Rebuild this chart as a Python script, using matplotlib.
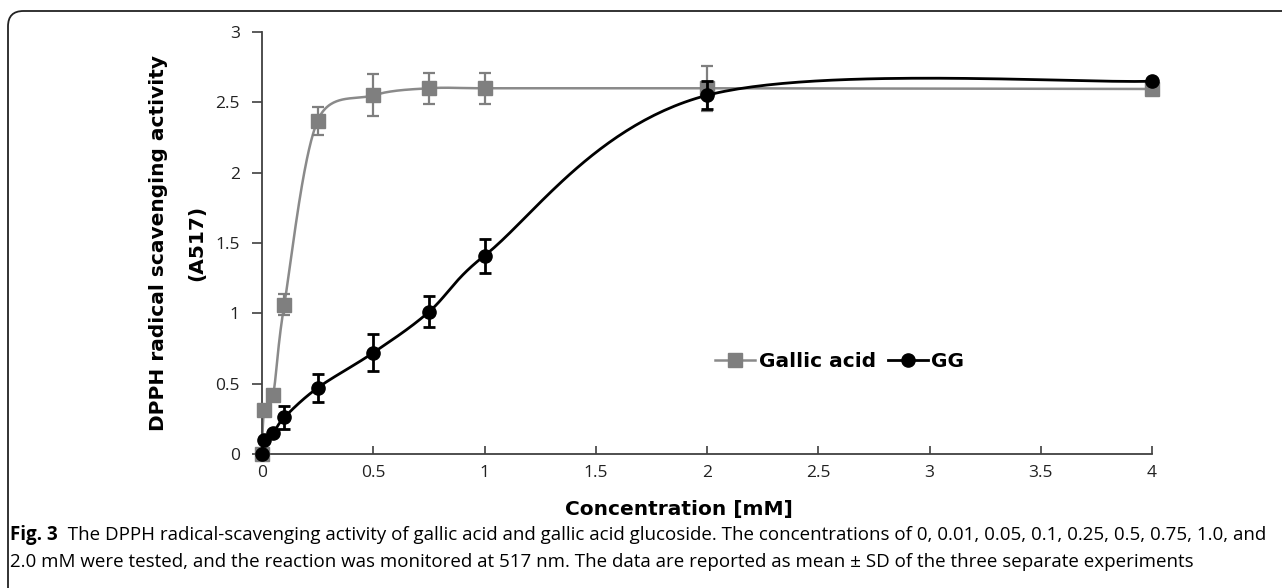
import numpy as np
import matplotlib
matplotlib.use("Agg")
import matplotlib.pyplot as plt
from matplotlib.patches import FancyBboxPatch
from matplotlib.lines import Line2D

# ---------------- data ----------------
conc = [0, 0.01, 0.05, 0.1, 0.25, 0.5, 0.75, 1.0, 2.0, 4.0]
gallic = [0, 0.31, 0.42, 1.06, 2.37, 2.55, 2.60, 2.60, 2.60, 2.595]
gallic_sd = [0, 0, 0, 0.075, 0.10, 0.15, 0.11, 0.11, 0.16, 0]
gg = [0, 0.10, 0.15, 0.26, 0.47, 0.72, 1.01, 1.41, 2.55, 2.65]
gg_sd = [0, 0, 0, 0.08, 0.10, 0.13, 0.11, 0.12, 0.10, 0]
xticks = [0, 0.5, 1, 1.5, 2, 2.5, 3, 3.5, 4]
xticklabels = ["0", "0.5", "1", "1.5", "2", "2.5", "3", "3.5", "4"]
yticks = [0, 0.5, 1, 1.5, 2, 2.5, 3]
yticklabels = ["0", "0.5", "1", "1.5", "2", "2.5", "3"]
series_names = ["Gallic acid", "GG"]
caption_bold = "Fig. 3"
caption_line1 = ("  The DPPH radical-scavenging activity of gallic acid and gallic acid glucoside. "
                 "The concentrations of 0, 0.01, 0.05, 0.1, 0.25, 0.5, 0.75, 1.0, and")
caption_line2 = ("2.0 mM were tested, and the reaction was monitored at 517 nm. "
                 "The data are reported as mean \u00b1 SD of the three separate experiments")

W, H = 1282, 588
AX_L, AX_R, AX_B, AX_T = 262, 1152, 454, 32   # axes box in pixels
XMAX, YMAX = 4.0, 3.0


def smooth(x, y, n=60):
    """Excel-style smoothed line (cubic Bezier, tension 1/6 limited to half a segment)."""
    sxp = (AX_R - AX_L) / XMAX
    syp = (AX_B - AX_T) / YMAX
    P = np.column_stack([np.asarray(x, float) * sxp, np.asarray(y, float) * syp])
    out = []
    for i in range(len(P) - 1):
        p0 = P[i - 1] if i > 0 else P[i]
        p1 = P[i]
        p2 = P[i + 1]
        p3 = P[i + 2] if i + 2 < len(P) else P[i + 1]
        d02 = np.linalg.norm(p2 - p0)
        d12 = np.linalg.norm(p2 - p1)
        d13 = np.linalg.norm(p3 - p1)
        f = 1 / 6.0
        g = 1 / 6.0
        if d02 > 0 and d02 / 6.0 > d12 / 2.0:
            f = d12 / 2.0 / d02
        if d13 > 0 and d13 / 6.0 > d12 / 2.0:
            g = d12 / 2.0 / d13
        c1 = p1 + (p2 - p0) * f
        c2 = p2 - (p3 - p1) * g
        t = np.linspace(0, 1, n)[:, None]
        seg = ((1 - t) ** 3) * p1 + 3 * ((1 - t) ** 2) * t * c1 + 3 * (1 - t) * t ** 2 * c2 + t ** 3 * p2
        out.append(seg if i == 0 else seg[1:])
    s = np.vstack(out)
    return s[:, 0] / sxp, s[:, 1] / syp


tick_fam = ["Open Sans", "DejaVu Sans"]
bold_fam = ["DejaVu Sans"]
cap_fam = ["Open Sans", "DejaVu Sans"]

fig = plt.figure(figsize=(W / 100, H / 100), dpi=100)

# frame (rounded left corners, top line running off the right edge)
frame = FancyBboxPatch((8 / W, -30 / H), 1.2, (H - 11 + 30) / H,
                       boxstyle="round,pad=0,rounding_size=0.012",
                       transform=fig.transFigure, fill=False, ec="#222222", lw=1.3,
                       mutation_aspect=W / H)
fig.patches.append(frame)

ax = fig.add_axes([AX_L / W, 1 - AX_B / H, (AX_R - AX_L) / W, (AX_B - AX_T) / H])

gray = "#7f7f7f"
gray_line = "#8a8a8a"

sx, sy = smooth(conc, gallic)
ax.plot(sx, sy, color=gray_line, lw=1.8, clip_on=False, zorder=2)
sx2, sy2 = smooth(conc, gg)
ax.plot(sx2, sy2, color="black", lw=2.0, clip_on=False, zorder=4)

ax.errorbar(conc, gallic, yerr=gallic_sd, fmt="s", color=gray, ms=9.5,
            ecolor=gray, elinewidth=1.6, capsize=4, capthick=1.6, clip_on=False, zorder=3)
ax.errorbar(conc, gg, yerr=gg_sd, fmt="o", color="black", ms=9.5,
            ecolor="black", elinewidth=2.0, capsize=4, capthick=2.0, clip_on=False, zorder=5)

ax.set_xlim(0, XMAX)
ax.set_ylim(0, YMAX)
ax.set_xticks(xticks)
ax.set_xticklabels(xticklabels, fontsize=12.5, family=tick_fam, color="#222222")
ax.set_yticks(yticks)
ax.set_yticklabels(yticklabels, fontsize=12.5, family=tick_fam, color="#222222")
ax.tick_params(axis="x", direction="in", length=6, width=1.2, color="#404040", pad=8)
ax.tick_params(axis="y", direction="out", length=7, width=1.2, color="#404040", pad=9)
for s in ["top", "right"]:
    ax.spines[s].set_visible(False)
for s in ["left", "bottom"]:
    ax.spines[s].set_color("#404040")
    ax.spines[s].set_linewidth(1.3)

ax.set_xlabel("Concentration [mM]", fontsize=14.5, fontweight="bold", family=bold_fam)
ax.xaxis.set_label_coords((678.5 - AX_L) / (AX_R - AX_L), -(500 - AX_B) / (AX_B - AX_T))
ax.set_ylabel("DPPH radical scavenging activity\n(A517)", fontsize=14.5, fontweight="bold",
              family=bold_fam, linespacing=2.25)
ax.yaxis.set_label_coords(-(AX_L - 206) / (AX_R - AX_L), 0.5)

handles = [Line2D([], [], color=gray_line, marker="s", mfc=gray, mec=gray, ms=9.5, lw=1.8),
           Line2D([], [], color="black", marker="o", ms=9.5, lw=2.0)]
ax.legend(handles, series_names, loc="center", bbox_to_anchor=(0.649, 0.22), ncol=2,
          frameon=False, prop={"weight": "bold", "size": 14.5, "family": bold_fam},
          handlelength=2.0, handletextpad=0.15, columnspacing=0.6)

# caption, sized so that the first line spans the width used in the reference
renderer = fig.canvas.get_renderer()
fs = 13.0
x0 = 10
target_right = 1261
t1 = fig.text(x0 / W, 1 - 540 / H, caption_bold, fontsize=fs, fontweight="bold",
              family=cap_fam, va="baseline")
t2 = fig.text(0, 1 - 540 / H, caption_line1, fontsize=fs, family=cap_fam, va="baseline")
w_total = t1.get_window_extent(renderer).width + t2.get_window_extent(renderer).width
fs = fs * (target_right - x0) / w_total
t1.set_fontsize(fs)
t2.set_fontsize(fs)
bb = t1.get_window_extent(renderer)
t2.set_x(bb.x1 / W)
fig.text(x0 / W, 1 - 567 / H, caption_line2, fontsize=fs, family=cap_fam, va="baseline")

fig.savefig("out.png", dpi=100)
